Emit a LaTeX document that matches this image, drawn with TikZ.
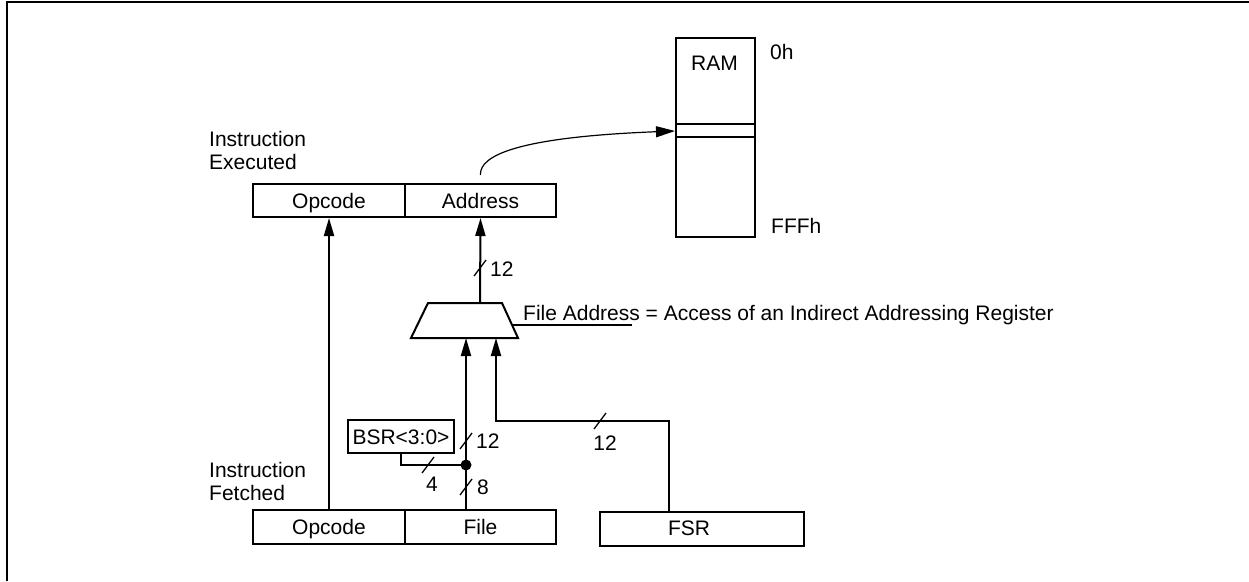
\documentclass[tikz,border=0pt]{standalone}
\usepackage{fontspec}
\setmainfont{Liberation Sans}
\usetikzlibrary{arrows.meta}
\begin{document}
\begin{tikzpicture}[x=1pt,y=-1pt,
  every node/.style={font=\fontsize{21}{23}\selectfont, inner sep=0pt},
  lbl/.style={text height=15pt,text depth=0pt},
  reg/.style={draw,line width=2pt,anchor=north west,text height=15pt,text depth=0pt},
  wire/.style={line width=2pt},
  arr/.style={wire,-{Triangle[length=18pt,width=10pt]}},
  slash/.style={line width=1.3pt},
  curvearr/.style={line width=1.2pt,-{Triangle[length=19pt,width=11pt]}}
]
\useasboundingbox (0,0) rectangle (1249,581);
% frame
\draw[line width=2pt] (7,581) -- (7,2) -- (1249,2);

% RAM
\node[reg,minimum width=79pt,minimum height=199pt] (ram) at (675,37) {};
\node[lbl] (ramtxt) at (714.5,63) {RAM};
\node[lbl,anchor=west] (zeroh) at (770,52) {0h};
\node[lbl,anchor=west] (fffh) at (771,226) {FFFh};
\coordinate (slotA) at (675,124);
\coordinate (slotB) at (675,137);
\coordinate (slot) at (675,131);
\draw[wire] (ram.west |- slotA) -- (ram.east |- slotA);
\draw[wire] (ram.west |- slotB) -- (ram.east |- slotB);

% instruction executed
\node[anchor=north west,align=left] (exlbl) at (209,131) {Instruction\\Executed};
\node[reg,minimum width=152pt,minimum height=33pt] (op1) at (252,183) {Opcode};
\node[reg,minimum width=151pt,minimum height=33pt] (ad1) at (404,183) {Address};

% curve to RAM
\draw[curvearr] ([yshift=8pt]ad1.north) .. controls (479,155) and (520,137) .. (ram.west |- slot);

% mux
\coordinate (muxout) at (480,303);
\coordinate (muxinA) at (466,338);
\coordinate (muxinB) at (496,338);
\coordinate (muxside) at (512,325);
\coordinate (leadend) at (632,325);
\draw[wire] (428,303) -- (502,303) -- (518,338) -- (411,338) -- cycle;
\draw[wire] (muxside) -- (leadend);
\node[anchor=base west] (fatxt) at (523,320) {File Address = Access of an Indirect Addressing Register};

% mux output to Address
\draw[arr] (muxout) -- (ad1.south);
\draw[slash] (480,268) +(-6,8) -- +(6,-8);
\node[lbl,anchor=west] (w12a) at (490,269) {12};

% instruction fetched
\node[anchor=north west,align=left] (felbl) at (209,462) {Instruction\\Fetched};
\node[reg,minimum width=152pt,minimum height=34pt] (op2) at (252,509) {Opcode};
\node[reg,minimum width=151pt,minimum height=34pt] (file) at (404,509) {File};
\node[reg,minimum width=204pt,minimum height=34pt] (fsr) at (599,511) {};
\node[lbl] (fsrtxt) at (689,528) {FSR};
\node[reg,minimum width=106pt,minimum height=33pt] (bsr) at (347,419) {BSR<3:0>};

% opcode path
\draw[arr] (op2.north) -- (op1.south);

% file + BSR path
\coordinate (junc) at (466,465);
\draw[arr] (file.north -| muxinA) -- (muxinA);
\draw[wire] (bsr.south) -- (bsr.south |- junc) -- (junc);
\fill (junc) circle (5.5);
\draw[slash] (466,441) +(-6,8) -- +(6,-8);
\node[lbl,anchor=west] (w12b) at (476,441) {12};
\draw[slash] (466,487) +(-6,8) -- +(6,-8);
\node[lbl,anchor=west] (w8) at (477,487) {8};
\draw[slash] (428,465) +(-6,8) -- +(6,-8);
\node[lbl] (w4) at (432,484) {4};

% FSR path
\coordinate (fsrtap) at (669,421);
\draw[arr] (fsr.north -| fsrtap) -- (fsrtap) -- (fsrtap -| muxinB) -- (muxinB);
\draw[slash] (600,421) +(-6,8) -- +(6,-8);
\node[lbl] (w12c) at (605,443) {12};
\end{tikzpicture}
\end{document}
